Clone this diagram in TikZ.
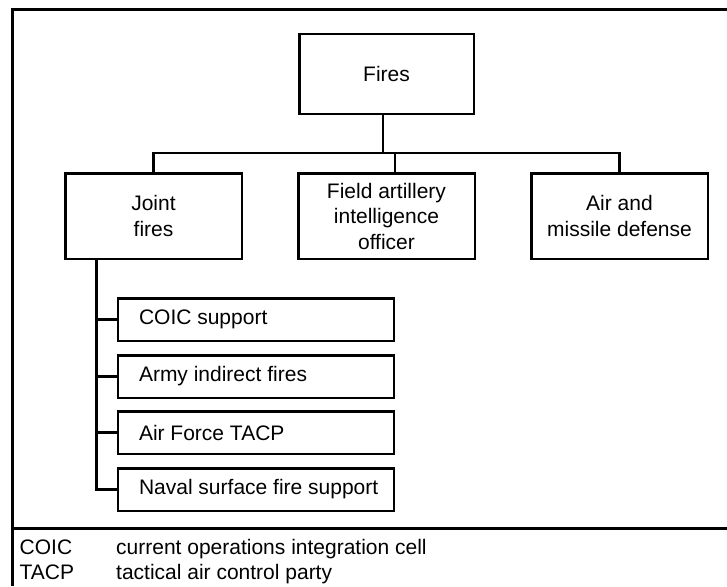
\documentclass[tikz,border=0pt]{standalone}
\usepackage{fontspec}
\setmainfont{Liberation Sans}
% left-aligned label of fixed width inside a sub-unit box
\newcommand\subtext[1]{\makebox[234pt][l]{#1}}
\begin{document}
\begin{tikzpicture}[x=1pt,y=-1pt,
  every node/.style={font=\fontsize{21}{25.5}\selectfont},
  unit/.style={draw, line width=2.5pt, align=center, inner sep=0pt},
  topbox/.style={unit, minimum width=174.5pt, minimum height=79.5pt},
  midbox/.style={unit, minimum width=176.5pt, minimum height=85.5pt},
  subbox/.style={unit, minimum width=276pt, minimum height=42.5pt},
  link/.style={line width=2.5pt},
  frameline/.style={line width=3pt},
  abbr/.style={anchor=base west, inner sep=0pt},
]
\useasboundingbox (0,0) rectangle (727,586);

% outer frame and legend divider
\draw[frameline] (727,9.5) -- (12.5,9.5) -- (12.5,586);
\draw[frameline] (12.5,528.5) -- (727,528.5);

% organization boxes
\node[topbox] (fires) at (386.5,74) {Fires};
\node[midbox] (joint) at (153.5,216) {Joint\\fires};
\node[midbox] (field) at (386.5,216) {Field artillery\\intelligence\\officer};
\node[midbox] (air) at (619.5,216) {Air and\\missile defense};

\node[subbox] (coic) at (256,319.5) {\subtext{COIC support}};
\node[subbox] (army) at (256,376.5) {\subtext{Army indirect fires}};
\node[subbox] (tacp) at (256,432.5) {\subtext{Air Force TACP}};
\node[subbox] (naval) at (256,489.5) {\subtext{Naval surface fire support}};

% connectors
\coordinate (bus) at (386.5,153);
\coordinate (spine) at (96.5,260);
\draw[link] ([xshift=-3.5pt]fires.south) -- ([xshift=-3.5pt]fires.south |- bus);
\draw[link] (joint.north) |- (bus) -| (air.north);
\draw[link] ([xshift=8.5pt]field.north) -- ([xshift=8.5pt]field.north |- bus);
\draw[link] (joint.south -| spine) |- (naval.west);
\draw[link] (coic.west -| spine) -- (coic.west);
\draw[link] (army.west -| spine) -- (army.west);
\draw[link] (tacp.west -| spine) -- (tacp.west);

% legend
\node[abbr] (k1) at (19.5,554.5) {COIC};
\node[abbr] (v1) at (116,554.5) {current operations integration cell};
\node[abbr] (k2) at (19.5,579.5) {TACP};
\node[abbr] (v2) at (116,579.5) {tactical air control party};
\end{tikzpicture}
\end{document}
